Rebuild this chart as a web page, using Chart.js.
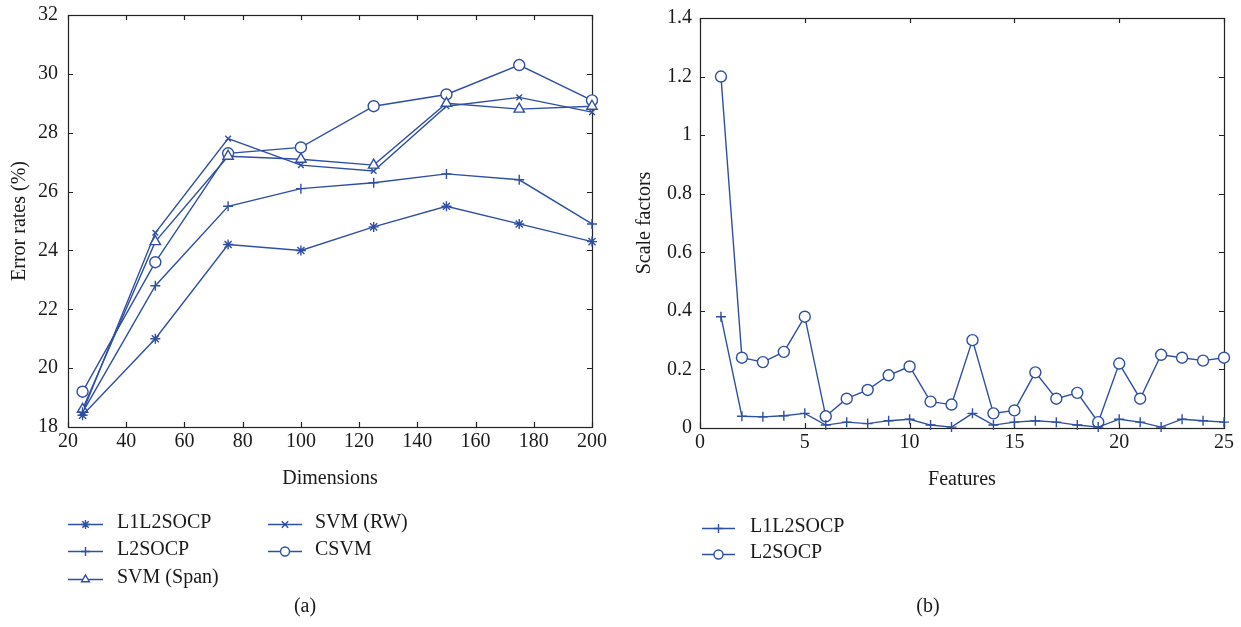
<!DOCTYPE html>
<html>
<head>
<meta charset="utf-8">
<script src="https://cdn.jsdelivr.net/npm/chart.js@4.4.1/dist/chart.umd.min.js"></script>
<style>
  body { margin: 0; background: #fff; width: 1241px; height: 627px; position: relative; overflow: hidden; }
  canvas { position: absolute; top: 0; }
  #left { left: 0; width: 610px; height: 627px; }
  #right { left: 610px; width: 631px; height: 627px; }
</style>
</head>
<body>
<canvas id="left" width="610" height="627"></canvas>
<canvas id="right" width="631" height="627"></canvas>
<script>
// (a) error rates vs dimensions
const dimensions = [25, 50, 75, 100, 125, 150, 175, 200];
const errL1L2socp = [18.4, 21.0, 24.2, 24.0, 24.8, 25.5, 24.9, 24.3];
const errL2socp   = [18.5, 22.8, 25.5, 26.1, 26.3, 26.6, 26.4, 24.9];
const errSvmSpan  = [18.6, 24.3, 27.2, 27.1, 26.9, 29.0, 28.8, 28.9];
const errSvmRw    = [18.5, 24.6, 27.8, 26.9, 26.7, 28.9, 29.2, 28.7];
const errCsvm     = [19.2, 23.6, 27.3, 27.5, 28.9, 29.3, 30.3, 29.1];

// (b) scale factors per feature
const features = [1, 2, 3, 4, 5, 6, 7, 8, 9, 10, 11, 12, 13, 14, 15, 16, 17, 18, 19, 20, 21, 22, 23, 24, 25];
const scaleL1L2socp = [0.38, 0.04, 0.038, 0.042, 0.05, 0.01, 0.02, 0.015, 0.025, 0.03, 0.01, 0.003, 0.05,
                       0.01, 0.02, 0.025, 0.02, 0.01, 0.003, 0.03, 0.02, 0.003, 0.03, 0.025, 0.02];
const scaleL2socp = [1.2, 0.24, 0.225, 0.26, 0.38, 0.04, 0.1, 0.13, 0.18, 0.21, 0.09, 0.08, 0.3,
                     0.05, 0.06, 0.19, 0.1, 0.12, 0.02, 0.22, 0.1, 0.25, 0.24, 0.23, 0.24];

const BLUE = '#2f4fa4';
const FONT = "'Liberation Serif', 'DejaVu Serif', serif";
const TEXT = '#1a1a1a';
const LW = 1.4;

function pts(xs, ys) {
  return xs.map((x, i) => ({ x: x, y: ys[i] }));
}

function series(label, xs, ys, style, r) {
  return {
    label: label,
    data: pts(xs, ys),
    borderColor: BLUE,
    borderWidth: LW,
    pointStyle: style,
    pointRadius: r,
    pointHoverRadius: r,
    pointBorderColor: BLUE,
    pointBackgroundColor: '#fff',
    pointBorderWidth: LW,
    tension: 0,
    fill: false,
    clip: false
  };
}

// box round the plot with inward tick marks on all four sides
const framePlugin = {
  id: 'frame',
  beforeDatasetsDraw(chart) {
    const { ctx, chartArea: a, scales: { x, y } } = chart;
    const len = 5;
    ctx.save();
    ctx.strokeStyle = '#222';
    ctx.lineWidth = 1.2;
    ctx.strokeRect(Math.round(a.left) + 0.5, Math.round(a.top) + 0.5, Math.round(a.width), Math.round(a.height));
    ctx.beginPath();
    x.ticks.forEach(t => {
      const px = Math.round(x.getPixelForValue(t.value)) + 0.5;
      ctx.moveTo(px, a.bottom); ctx.lineTo(px, a.bottom - len);
      ctx.moveTo(px, a.top); ctx.lineTo(px, a.top + len);
    });
    y.ticks.forEach(t => {
      const py = Math.round(y.getPixelForValue(t.value)) + 0.5;
      ctx.moveTo(a.left, py); ctx.lineTo(a.left + len, py);
      ctx.moveTo(a.right, py); ctx.lineTo(a.right - len, py);
    });
    ctx.stroke();
    ctx.restore();
  }
};

function marker(ctx, style, r, x, y) {
  if (Chart.helpers && Chart.helpers.drawPoint) {
    Chart.helpers.drawPoint(ctx, { pointStyle: style, radius: r, rotation: 0, borderWidth: LW }, x, y);
  } else {
    ctx.beginPath(); ctx.arc(x, y, r, 0, Math.PI * 2); ctx.fill(); ctx.stroke();
  }
}

// legend under the plot, drawn from the datasets' own styles
function legendPlugin(entries, caption) {
  return {
    id: 'panelLegend',
    afterDraw(chart) {
      const ctx = chart.ctx;
      ctx.save();
      ctx.font = '20px ' + FONT;
      ctx.textBaseline = 'middle';
      entries.forEach(e => {
        const ds = chart.data.datasets[e.index];
        ctx.strokeStyle = ds.borderColor;
        ctx.fillStyle = '#fff';
        ctx.lineWidth = LW;
        ctx.beginPath();
        ctx.moveTo(e.x0, e.y + 1.5); ctx.lineTo(e.x1, e.y + 1.5);
        ctx.stroke();
        marker(ctx, ds.pointStyle, 4.5, (e.x0 + e.x1) / 2, e.y + 1.5);
        ctx.fillStyle = TEXT;
        ctx.textAlign = 'left';
        ctx.fillText(ds.label, e.tx, e.y);
      });
      ctx.textAlign = 'center';
      ctx.fillStyle = TEXT;
      ctx.fillText(caption.text, caption.x, caption.y);
      ctx.restore();
    }
  };
}

function axisTitle(text, pad) {
  return { display: true, text: text, color: TEXT, font: { family: FONT, size: 20 }, padding: pad };
}

const tickFont = { family: FONT, size: 20 };

function fixX(h) {
  return s => { s.height = h; s.paddingLeft = 0; s.paddingRight = 0; };
}
function fixY(w) {
  return s => { s.width = w; s.paddingTop = 0; s.paddingBottom = 0; };
}

new Chart(document.getElementById('left'), {
  type: 'line',
  data: {
    datasets: [
      series('L1L2SOCP', dimensions, errL1L2socp, 'star', 5),
      series('L2SOCP', dimensions, errL2socp, 'cross', 5),
      series('SVM (Span)', dimensions, errSvmSpan, 'triangle', 6),
      series('SVM (RW)', dimensions, errSvmRw, 'crossRot', 4),
      series('CSVM', dimensions, errCsvm, 'circle', 5.5)
    ]
  },
  options: {
    responsive: false,
    animation: false,
    devicePixelRatio: 1,
    layout: { padding: { left: 0, top: 15, right: 18, bottom: 127 } },
    plugins: { legend: { display: false }, tooltip: { enabled: false } },
    scales: {
      x: {
        type: 'linear', min: 20, max: 200,
        grid: { display: false, drawTicks: false }, border: { display: false },
        ticks: { stepSize: 20, color: TEXT, font: tickFont, padding: 3, maxRotation: 0 },
        title: axisTitle('Dimensions', { top: 0, bottom: 9 }),
        afterFit: fixX(73)
      },
      y: {
        type: 'linear', min: 18, max: 32,
        grid: { display: false, drawTicks: false }, border: { display: false },
        ticks: { stepSize: 2, color: TEXT, font: tickFont, padding: 10 },
        title: axisTitle('Error rates (%)', { top: 8, bottom: 0 }),
        afterFit: fixY(68)
      }
    }
  },
  plugins: [framePlugin, legendPlugin([
    { index: 0, x0: 68, x1: 103, tx: 117, y: 523 },
    { index: 1, x0: 68, x1: 103, tx: 117, y: 550 },
    { index: 2, x0: 68, x1: 103, tx: 117, y: 578 },
    { index: 3, x0: 268, x1: 302, tx: 315, y: 523 },
    { index: 4, x0: 268, x1: 302, tx: 315, y: 550 }
  ], { text: '(a)', x: 305, y: 607 })]
});

new Chart(document.getElementById('right'), {
  type: 'line',
  data: {
    datasets: [
      series('L1L2SOCP', features, scaleL1L2socp, 'cross', 5),
      series('L2SOCP', features, scaleL2socp, 'circle', 5.5)
    ]
  },
  options: {
    responsive: false,
    animation: false,
    devicePixelRatio: 1,
    layout: { padding: { left: 0, top: 18, right: 17, bottom: 127 } },
    plugins: { legend: { display: false }, tooltip: { enabled: false } },
    scales: {
      x: {
        type: 'linear', min: 0, max: 25,
        grid: { display: false, drawTicks: false }, border: { display: false },
        ticks: { stepSize: 5, color: TEXT, font: tickFont, padding: 3, maxRotation: 0 },
        title: axisTitle('Features', { top: 0, bottom: 8 }),
        afterFit: fixX(72)
      },
      y: {
        type: 'linear', min: 0, max: 1.4,
        grid: { display: false, drawTicks: false }, border: { display: false },
        ticks: { stepSize: 0.2, color: TEXT, font: tickFont, padding: 8,
                 callback: v => String(Number(v.toFixed(1))) },
        title: axisTitle('Scale factors', { top: 23, bottom: 0 }),
        afterFit: fixY(90)
      }
    }
  },
  plugins: [framePlugin, legendPlugin([
    { index: 0, x0: 92, x1: 125, tx: 140, y: 527 },
    { index: 1, x0: 92, x1: 125, tx: 140, y: 553 }
  ], { text: '(b)', x: 318, y: 607 })]
});
</script>
</body>
</html>
